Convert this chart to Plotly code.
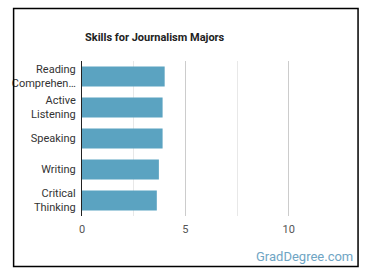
import plotly.graph_objects as go

skills = ["Reading<br>Comprehen…", "Active<br>Listening", "Speaking", "Writing", "Critical<br>Thinking"]
values = [4.0, 3.9, 3.9, 3.72, 3.62]
x_ticks = [0, 5, 10]

fig = go.Figure(go.Bar(
    x=values, y=skills, orientation="h",
    marker=dict(color="#5ba3c1", line=dict(width=0)),
    width=0.65,
))

L, R, T, B = 78, 330, 61, 216
W, H = 370, 278
pw, ph = R - L, B - T

def px_x(x):
    return (x - L) / pw

def px_y(y):
    return (B - y) / ph

fig.update_layout(
    width=W, height=H,
    margin=dict(l=L, r=W - R, t=T, b=H - B),
    paper_bgcolor="white", plot_bgcolor="white",
    font=dict(family="Roboto", size=11, color="#333"),
    showlegend=False,
    bargap=0.35,
    xaxis=dict(
        range=[0, 12], tickvals=x_ticks, showgrid=True, gridcolor="#cccccc", gridwidth=1,
        zeroline=False, showline=False, tickfont=dict(size=11, color="#555"),
        ticks="", ticklabelstandoff=5,
        minor=dict(tickvals=[2.5, 7.5], showgrid=True, gridcolor="#e8e8e8", gridwidth=1),
    ),
    yaxis=dict(
        autorange="reversed", showgrid=False, showline=True, linecolor="#222", linewidth=1,
        ticks="", ticklabelstandoff=3, tickfont=dict(size=11, color="#333"),
    ),
    shapes=[dict(type="rect", xref="paper", yref="paper",
                 x0=px_x(8.5), x1=px_x(358.5), y0=px_y(266.5), y1=px_y(8.5),
                 line=dict(color="black", width=1.5), fillcolor="rgba(0,0,0,0)")],
    annotations=[
        dict(text="<b>Skills for Journalism Majors</b>", xref="paper", yref="paper",
             x=px_x(79), y=px_y(37), xanchor="left", yanchor="middle", showarrow=False,
             font=dict(size=11, color="#222")),
        dict(text="GradDegree.com", xref="paper", yref="paper",
             x=px_x(355), y=px_y(256), xanchor="right", yanchor="middle", showarrow=False,
             font=dict(size=13, color="#6fa5c4")),
    ],
)

fig.write_html("out.html")
